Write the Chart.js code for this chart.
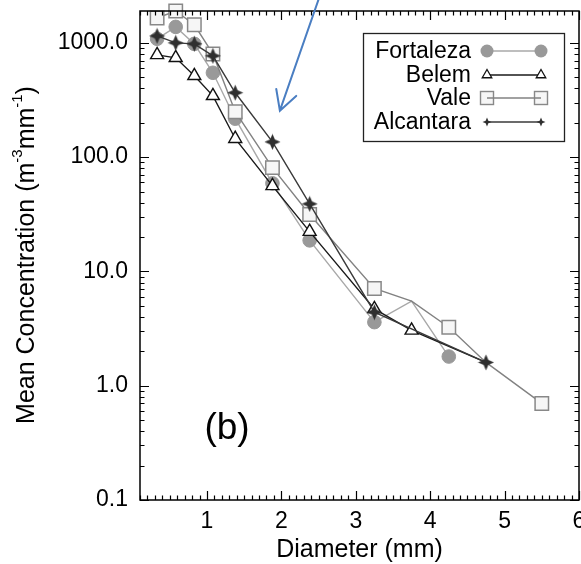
<!DOCTYPE html>
<html>
<head>
<meta charset="utf-8">
<script src="https://cdn.jsdelivr.net/npm/chart.js@4.4.0/dist/chart.umd.min.js"></script>
<style>
  html, body { margin: 0; padding: 0; background: #fff; }
  #wrap { width: 581px; height: 564px; }
</style>
</head>
<body>
<div id="wrap"><canvas id="dsd" width="581" height="564"></canvas></div>
<script>
// Mean drop size distributions per site
const diameters = [0.33, 0.58, 0.83, 1.08, 1.38, 1.88, 2.38, 3.25, 3.75, 4.25, 4.75, 5.5];
const fortaleza = [1085, 1380, 980, 547, 217, 59, 18.7, 3.6, 5.5, 1.8, null, null];
const belem     = [785, 740, 515, 344, 145, 56, 22.3, 4.7, 3.05, null, 1.6, null];
const vale      = [1650, 1900, 1440, 800, 250, 81, 31.5, 7.1, 5.5, 3.25, 1.6, 0.70];
const alcantara = [1150, 1000, 980, 770, 366, 136, 39, 4.4, null, null, 1.6, null];

const xTicks = [1, 2, 3, 4, 5, 6];
const yTicks = [0.1, 1, 10, 100, 1000];

const FONT = "'Liberation Sans', Arial, Helvetica, sans-serif";

// vertices drawn without a marker in the original
const noMarker = {
  Fortaleza: [8],
  Belem: [10],
  Vale: [8, 10],
  Alcantara: []
};

function toPoints(vals) {
  const pts = [];
  vals.forEach((v, i) => {
    if (v !== null) pts.push({ x: diameters[i], y: v, idx: i });
  });
  return pts;
}

// 4-pointed star marker
function makeStar(size, color) {
  const c = document.createElement('canvas');
  c.width = size; c.height = size;
  const g = c.getContext('2d');
  const cx = size / 2, cy = size / 2, ro = size / 2 - 0.5, ri = ro * 0.42;
  g.beginPath();
  for (let k = 0; k < 8; k++) {
    const r = k % 2 === 0 ? ro : ri;
    const a = -Math.PI / 2 + k * Math.PI / 4;
    const px = cx + r * Math.cos(a), py = cy + r * Math.sin(a);
    if (k === 0) g.moveTo(px, py); else g.lineTo(px, py);
  }
  g.closePath();
  g.fillStyle = color;
  g.fill();
  return c;
}

const starBig = makeStar(17, '#2f2f2f');
const starSmall = makeStar(10, '#2f2f2f');

const series = [
  { label: 'Fortaleza', vals: fortaleza, line: '#a8a8a8', style: 'circle', radius: 6.8, fill: '#999999', edge: '#999999', bw: 1, order: 4 },
  { label: 'Belem', vals: belem, line: '#1a1a1a', style: 'triangle', radius: 7.5, fill: '#ffffff', edge: '#111111', bw: 1.4, order: 2 },
  { label: 'Vale', vals: vale, line: '#828282', style: 'rect', radius: 9.5, fill: '#f6f6f6', edge: '#888888', bw: 1.5, order: 3 },
  { label: 'Alcantara', vals: alcantara, line: '#3a3a3a', style: starBig, radius: 8, fill: '#2f2f2f', edge: '#2f2f2f', bw: 1, order: 1 }
];

const datasets = series.map(s => ({
  label: s.label,
  data: toPoints(s.vals),
  borderColor: s.line,
  borderWidth: 1.4,
  pointStyle: s.style,
  pointRadius: ctx => (noMarker[s.label].includes(ctx.raw && ctx.raw.idx) ? 0 : s.radius),
  pointBackgroundColor: s.fill,
  pointBorderColor: s.edge,
  pointBorderWidth: s.bw,
  pointHoverRadius: s.radius,
  tension: 0,
  fill: false,
  clip: false,
  order: s.order
}));

// drop the label-overflow padding so the plot box reaches the edges
function noOverflow(s) {
  s.paddingTop = 0; s.paddingBottom = 0; s.paddingLeft = 0; s.paddingRight = 0;
}

const frame = {
  id: 'frame',
  afterDatasetsDraw(chart) {
    const { ctx, chartArea: a, scales: { x, y } } = chart;
    ctx.save();
    ctx.strokeStyle = '#000';
    ctx.lineWidth = 1.5;
    ctx.strokeRect(a.left, a.top, a.right - a.left, a.bottom - a.top);
    ctx.lineWidth = 1.2;
    ctx.beginPath();
    for (let i = 1; i <= 60; i++) {
      const px = Math.round(x.getPixelForValue(i / 10)) + 0.5;
      const len = i % 10 === 0 ? 9 : 4.5;
      ctx.moveTo(px, a.bottom); ctx.lineTo(px, a.bottom - len);
      ctx.moveTo(px, a.top); ctx.lineTo(px, a.top + len);
    }
    for (let e = -1; e <= 3; e++) {
      for (let k = 1; k <= 9; k++) {
        const v = k * Math.pow(10, e);
        if (v > y.max) break;
        const py = Math.round(y.getPixelForValue(v)) + 0.5;
        const len = k === 1 ? 9 : 4.5;
        ctx.moveTo(a.left, py); ctx.lineTo(a.left + len, py);
        ctx.moveTo(a.right, py); ctx.lineTo(a.right - len, py);
      }
    }
    ctx.stroke();
    ctx.restore();
  }
};

function drawMarker(ctx, s, x, y) {
  ctx.save();
  if (s.style === 'circle') {
    ctx.beginPath();
    ctx.arc(x, y, 6.5, 0, Math.PI * 2);
    ctx.fillStyle = s.fill;
    ctx.fill();
  } else if (s.style === 'triangle') {
    const r = 5.5;
    ctx.beginPath();
    ctx.moveTo(x, y - r);
    ctx.lineTo(x + r * 0.866, y + r * 0.5);
    ctx.lineTo(x - r * 0.866, y + r * 0.5);
    ctx.closePath();
    ctx.fillStyle = '#fff';
    ctx.fill();
    ctx.lineWidth = 1.3;
    ctx.strokeStyle = s.edge;
    ctx.stroke();
  } else if (s.style === 'rect') {
    ctx.fillStyle = s.fill;
    ctx.fillRect(x - 6.5, y - 6.5, 13, 13);
    ctx.lineWidth = 1.4;
    ctx.strokeStyle = s.edge;
    ctx.strokeRect(x - 6.5, y - 6.5, 13, 13);
  } else {
    ctx.drawImage(starSmall, x - starSmall.width / 2, y - starSmall.height / 2);
  }
  ctx.restore();
}

const legendBox = {
  id: 'legendBox',
  afterDraw(chart) {
    const ctx = chart.ctx;
    ctx.save();
    ctx.fillStyle = '#fff';
    ctx.fillRect(363, 33, 201, 108);
    ctx.strokeStyle = '#222';
    ctx.lineWidth = 1.3;
    ctx.strokeRect(363.5, 33.5, 201, 108);
    const order = ['Fortaleza', 'Belem', 'Vale', 'Alcantara'];
    const rows = [51, 75, 98, 122];
    ctx.font = '23px ' + FONT;
    ctx.textAlign = 'right';
    ctx.textBaseline = 'middle';
    order.forEach((name, i) => {
      const s = series.find(d => d.label === name);
      const yy = rows[i];
      ctx.fillStyle = '#000';
      ctx.fillText(name, 471, yy + 1);
      const line = () => {
        ctx.beginPath();
        ctx.moveTo(487, yy); ctx.lineTo(541, yy);
        ctx.strokeStyle = s.line; ctx.lineWidth = 1.4;
        ctx.stroke();
      };
      if (name !== 'Vale') line();
      drawMarker(ctx, s, 487, yy);
      drawMarker(ctx, s, 541, yy);
      if (name === 'Vale') line();
    });
    ctx.restore();
  }
};

const extras = {
  id: 'extras',
  afterDraw(chart) {
    const { ctx, scales: { x, y } } = chart;
    ctx.save();
    // y axis title with superscripts
    ctx.translate(27, 255);
    ctx.rotate(-Math.PI / 2);
    ctx.fillStyle = '#000';
    ctx.textBaseline = 'middle';
    const parts = [
      ['Mean Concentration (m', 25, 0],
      ['-3', 15, -9],
      ['mm', 25, 0],
      ['-1', 15, -9],
      [')', 25, 0]
    ];
    let total = 0;
    parts.forEach(p => { ctx.font = p[1] + 'px ' + FONT; total += ctx.measureText(p[0]).width; });
    let cx = -total / 2;
    ctx.textAlign = 'left';
    parts.forEach(p => {
      ctx.font = p[1] + 'px ' + FONT;
      ctx.fillText(p[0], cx, p[2]);
      cx += ctx.measureText(p[0]).width;
    });
    ctx.restore();

    // panel letter
    ctx.save();
    ctx.font = '37px ' + FONT;
    ctx.fillStyle = '#000';
    ctx.textAlign = 'center';
    ctx.textBaseline = 'middle';
    ctx.fillText('(b)', 227, 429);
    ctx.restore();

    // blue annotation arrow
    const tipX = x.getPixelForValue(1.98), tipY = y.getPixelForValue(255);
    const tailX = x.getPixelForValue(2.5), tailY = y.getPixelForValue(2400);
    const ang = Math.atan2(tailY - tipY, tailX - tipX);
    ctx.save();
    ctx.strokeStyle = '#4a7ec2';
    ctx.lineWidth = 2;
    ctx.lineCap = 'round';
    ctx.beginPath();
    ctx.moveTo(tailX, tailY); ctx.lineTo(tipX, tipY);
    ctx.moveTo(tipX + 22 * Math.cos(ang - 0.5), tipY + 22 * Math.sin(ang - 0.5));
    ctx.lineTo(tipX, tipY);
    ctx.lineTo(tipX + 22 * Math.cos(ang + 0.5), tipY + 22 * Math.sin(ang + 0.5));
    ctx.stroke();
    ctx.restore();
  }
};

new Chart(document.getElementById('dsd'), {
  type: 'line',
  data: { datasets },
  options: {
    responsive: false,
    animation: false,
    events: [],
    layout: { autoPadding: false, padding: { top: 11, right: 2, left: 0, bottom: 0 } },
    plugins: { legend: { display: false }, tooltip: { enabled: false } },
    scales: {
      x: {
        type: 'linear',
        min: 0.1,
        max: 6,
        grid: { display: false, drawTicks: false },
        border: { display: false },
        afterBuildTicks: s => { s.ticks = xTicks.map(v => ({ value: v })); },
        afterFit: s => { s.height = 64; noOverflow(s); },
        ticks: {
          color: '#000',
          padding: 8,
          maxRotation: 0,
          font: { family: FONT, size: 23 },
          callback: v => String(v)
        },
        title: {
          display: true,
          text: 'Diameter (mm)',
          color: '#000',
          font: { family: FONT, size: 25, lineHeight: 1.1 },
          padding: { top: 0, bottom: 0 }
        }
      },
      y: {
        type: 'logarithmic',
        min: 0.1,
        max: 1900,
        grid: { display: false, drawTicks: false },
        border: { display: false },
        afterBuildTicks: s => { s.ticks = yTicks.map(v => ({ value: v })); },
        afterFit: s => { s.width = 140; noOverflow(s); },
        ticks: {
          color: '#000',
          padding: 12,
          font: { family: FONT, size: 23 },
          callback: v => Number(v).toFixed(1)
        }
      }
    }
  },
  plugins: [frame, legendBox, extras]
});
</script>
</body>
</html>
